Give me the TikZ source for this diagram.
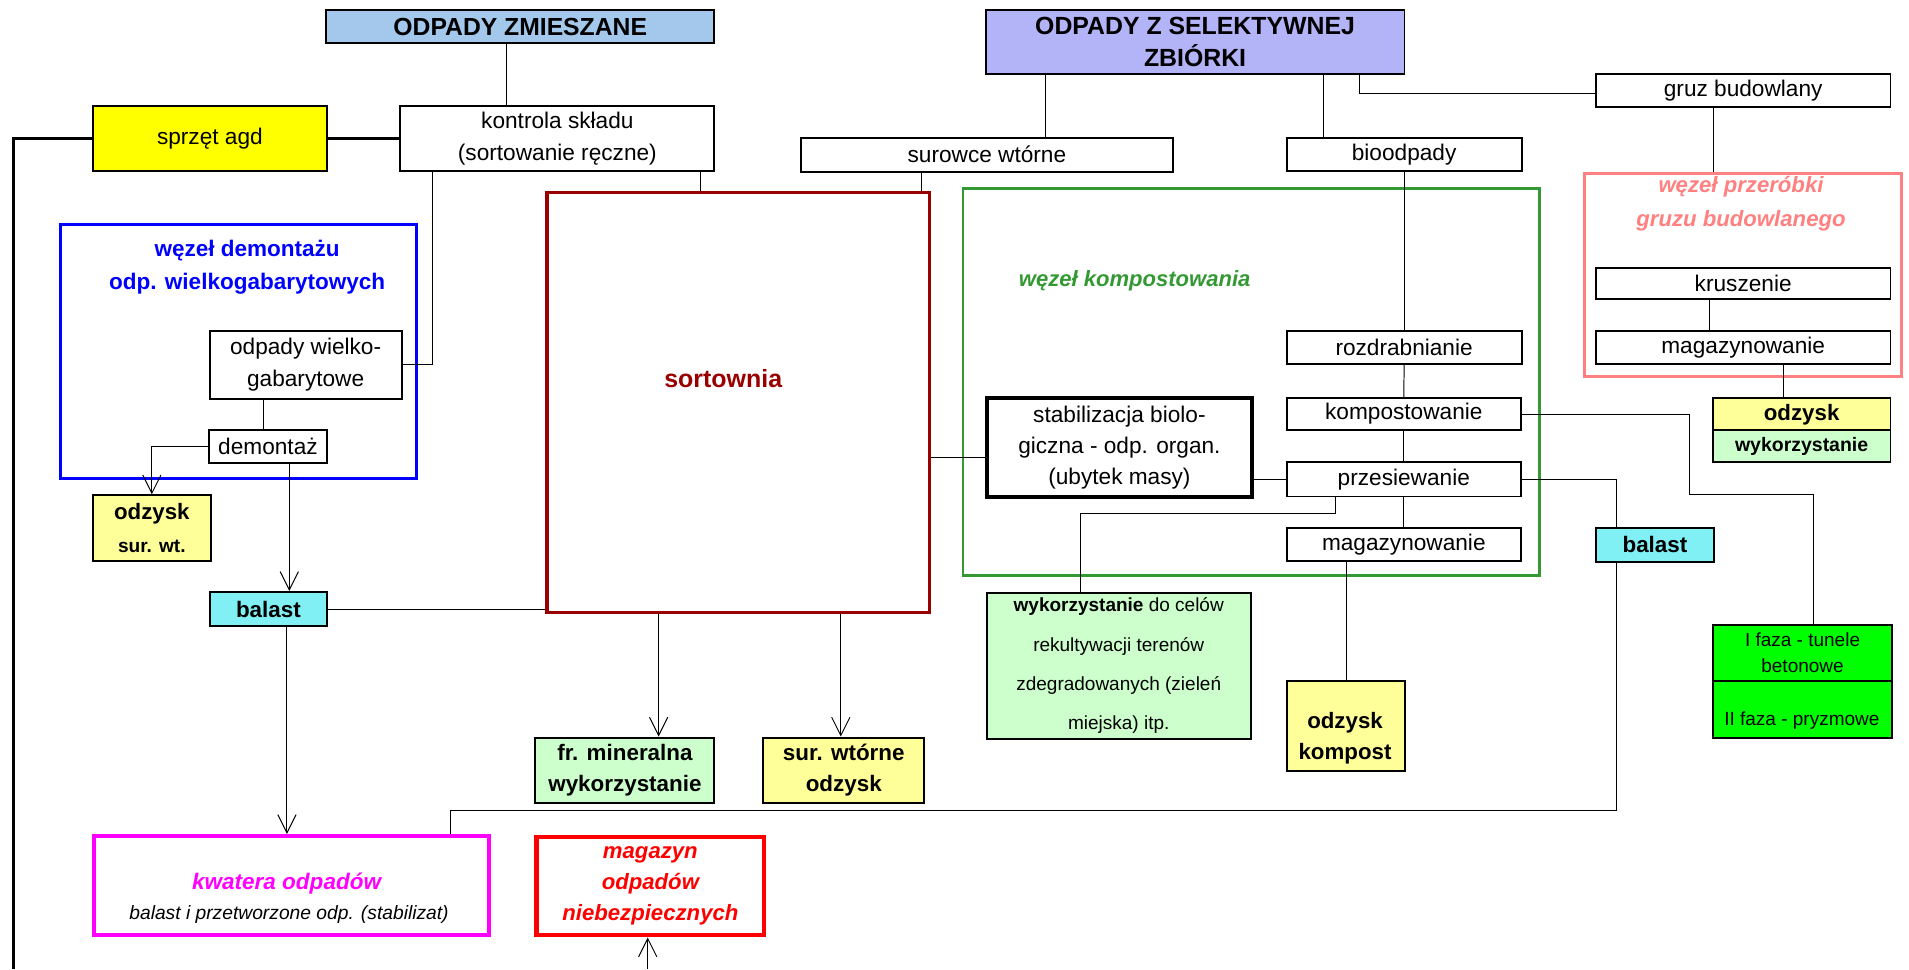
\documentclass[tikz,border=0pt]{standalone}
\usepackage{fontspec}
\setmainfont{Liberation Sans}
\usepackage{tikz}
\usetikzlibrary{arrows.meta,positioning,calc}
\definecolor{mixblue}{HTML}{A4C8EC}
\definecolor{selviolet}{HTML}{B3B3F7}
\definecolor{agdyellow}{HTML}{FFFF00}
\definecolor{paleyellow}{HTML}{FFFF99}
\definecolor{palegreen}{HTML}{CCFFCC}
\definecolor{brightgreen}{HTML}{00FF00}
\definecolor{ballastcyan}{HTML}{80F0F5}
\definecolor{sortred}{HTML}{990000}
\definecolor{compgreen}{HTML}{339933}
\definecolor{rubblepink}{HTML}{FF8080}
\definecolor{landfillpink}{HTML}{FF00FF}
\definecolor{hazred}{HTML}{FF0000}
\definecolor{dismblue}{HTML}{0000FF}

\newcommand\normtxt{\fontsize{18.6}{26}\selectfont}
\newcommand\smalltxt{\fontsize{15.6}{21.4}\selectfont}
\newcommand\boldtxt{\fontsize{18.4}{25.6}\selectfont\bfseries}

\tikzset{
  box/.style={draw, line width=1.6pt, inner sep=0pt, anchor=north west, align=center, font=\normtxt},
  nodeframe/.style={draw, line width=2.4pt, inner sep=0pt, anchor=north west},
  conn/.style={line width=0.8pt},
  arr/.style={line width=0.8pt, -{Straight Barb[length=15pt,width=15pt]}},
}

\begin{document}
\begin{tikzpicture}[x=1pt,y=-1pt]
  \useasboundingbox (0,0) rectangle (1568,796);

  % Inputs
  \node[box, fill=mixblue, minimum width=319pt, minimum height=27pt, font=\fontsize{20.3}{26}\selectfont\bfseries] (zmieszane) at (267,7.7) {ODPADY ZMIESZANE};
  \node[box, fill=selviolet, minimum width=344pt, minimum height=52.5pt, font=\fontsize{20.4}{26.1}\selectfont\bfseries] (selekt) at (808.8,7.7) {ODPADY Z SELEKTYWNEJ\\ZBIÓRKI};

  % First level
  \node[box, fill=agdyellow, minimum width=192.4pt, minimum height=54pt] (sprzet) at (75.4,86) {sprzęt agd};
  \node[box, minimum width=258pt, minimum height=54pt] (kontrola) at (328,86) {kontrola składu\\(sortowanie ręczne)};
  \node[box, minimum width=305.6pt, minimum height=28pt] (surowce) at (657,112.3) {surowce wtórne};
  \node[box, minimum width=193pt, minimum height=27.4pt] (bio) at (1056,112.6) {bioodpady};
  \node[box, minimum width=242pt, minimum height=27pt] (gruz) at (1310,60) {gruz budowlany};

  % Dismantling node
  \node[nodeframe, draw=dismblue, line width=2.6pt, minimum width=292.7pt, minimum height=209pt] (demframe) at (48.3,183) {};
  \node[text=dismblue, align=center, font=\fontsize{18.5}{27}\selectfont\bfseries] (demtitle) at (203,219.5) {węzeł demontażu\\odp. wielkogabarytowych};
  \node[box, minimum width=157.5pt, minimum height=55.6pt] (wielko) at (171.5,271) {odpady wielko-\\gabarytowe};
  \node[box, minimum width=97pt, minimum height=27.3pt] (demontaz) at (170.8,352.4) {demontaż};
  \node[box, fill=paleyellow, minimum width=97pt, minimum height=54pt, font=\fontsize{18.3}{27}\selectfont\bfseries] (odzs) at (75.4,406) {odzysk\\{\fontsize{15.7}{27}\selectfont sur. wt.}};
  \node[box, fill=ballastcyan, minimum width=96.3pt, minimum height=28pt, font=\boldtxt] (balastL) at (171.5,485.4) {balast};

  % Sorting plant
  \node[nodeframe, draw=sortred, line width=2.6pt, minimum width=314pt, minimum height=345pt] (sort) at (448,156.6) {};
  \node[text=sortred, font=\fontsize{20.5}{26}\selectfont\bfseries] (sorttitle) at (594,310.6) {sortownia};
  \node[box, fill=palegreen, minimum width=147pt, minimum height=54pt, font=\boldtxt] (fr) at (439,605) {fr. mineralna\\wykorzystanie};
  \node[box, fill=paleyellow, minimum width=132.5pt, minimum height=54pt, font=\boldtxt] (sw) at (626,605) {sur. wtórne\\odzysk};

  % Composting node
  \node[nodeframe, draw=compgreen, line width=2.2pt, minimum width=473.4pt, minimum height=317.6pt] (compframe) at (790,154) {};
  \node[text=compgreen, font=\fontsize{18.1}{26}\selectfont\bfseries\itshape] (comptitle) at (932,231) {węzeł kompostowania};
  \node[box, minimum width=193pt, minimum height=27pt] (rozdr) at (1056,271) {rozdrabnianie};
  \node[box, minimum width=192.5pt, minimum height=26.6pt] (kompost) at (1056,326) {kompostowanie};
  \node[box, minimum width=192.5pt, minimum height=28.3pt] (przes) at (1056,378.7) {przesiewanie};
  \node[box, minimum width=192.5pt, minimum height=27.4pt] (magk) at (1056,432.6) {magazynowanie};
  \node[box, line width=3.3pt, minimum width=218pt, minimum height=81.6pt, font=\fontsize{18.6}{25.3}\selectfont] (stab) at (808.8,325) {stabilizacja biolo-\\giczna - odp. organ.\\(ubytek masy)};
  \node[box, fill=palegreen, minimum width=217pt, minimum height=120pt, font=\fontsize{15.6}{32.3}\selectfont] (wyk) at (809.6,486) {{\bfseries wykorzystanie} do celów\\rekultywacji terenów\\zdegradowanych (zieleń\\miejska) itp.};
  \node[box, fill=paleyellow, minimum width=97.5pt, minimum height=74pt] (odzk) at (1056,558.5) {};
  \node[align=center, font=\fontsize{18.3}{25.7}\selectfont\bfseries] (odzktxt) at (1104.75,606.5) {odzysk\\kompost};

  % Rubble processing node
  \node[nodeframe, draw=rubblepink, line width=2.4pt, minimum width=260.6pt, minimum height=167pt] (rubframe) at (1300,141) {};
  \node[text=rubblepink, align=center, font=\fontsize{18.2}{27.7}\selectfont\bfseries\itshape] (rubtitle) at (1430,167) {węzeł przeróbki\\gruzu budowlanego};
  \node[box, minimum width=242pt, minimum height=26pt] (krusz) at (1310,219) {kruszenie};
  \node[box, minimum width=242pt, minimum height=27.4pt] (magg) at (1310,271) {magazynowanie};
  \node[box, fill=paleyellow, minimum width=146pt, minimum height=26.2pt, font=\fontsize{18.3}{26}\selectfont\bfseries] (odzg) at (1406,326.4) {odzysk};
  \node[box, fill=palegreen, minimum width=146pt, minimum height=26.4pt, font=\fontsize{16}{26}\selectfont\bfseries] (wykg) at (1406,352.6) {wykorzystanie};

  % Right side
  \node[box, fill=ballastcyan, minimum width=97pt, minimum height=27.5pt, font=\boldtxt] (balastR) at (1310,433) {balast};
  \node[box, fill=brightgreen, minimum width=146.5pt, minimum height=46pt, font=\smalltxt] (faza1) at (1406.5,512.5) {I faza - tunele\\betonowe};
  \node[box, fill=brightgreen, minimum width=146.5pt, minimum height=47pt] (faza2) at (1406.5,558.5) {};
  \node[font=\smalltxt] (faza2txt) at (1480,592) {II faza - pryzmowe};

  % Landfill and hazardous store
  \node[box, draw=landfillpink, line width=3.4pt, minimum width=324.3pt, minimum height=81.6pt] (kwat) at (75.5,685) {};
  \node[text=landfillpink, font=\fontsize{18.5}{26}\selectfont\bfseries\itshape] (kwattitle) at (235.4,726) {kwatera odpadów};
  \node[font=\fontsize{15.8}{26}\selectfont\itshape] (kwatsub) at (237.4,751.5) {balast i przetworzone odp. (stabilizat)};
  \node[box, draw=hazred, text=hazred, line width=3.4pt, minimum width=187pt, minimum height=81pt, font=\fontsize{18.2}{25.5}\selectfont\bfseries\itshape] (magn) at (439,685.6) {magazyn\\odpadów\\niebezpiecznych};
  \coordinate (magin) at (532,796);

  % Connectors from inputs
  \draw[conn] (415.6,0 |- zmieszane.south) -- (415.6,0 |- kontrola.north);
  \draw[line width=2pt] (sprzet.east) -- (kontrola.west);
  \draw[line width=2.6pt] (sprzet.west) -- (11.3,0 |- sprzet.west) -- (11.3,796);
  \draw[conn] (355.6,0 |- kontrola.south) |- (wielko.east);
  \draw[conn] (575,0 |- kontrola.south) -- (575,0 |- sort.north);
  \draw[conn] (858.6,0 |- selekt.south) -- (858.6,0 |- surowce.north);
  \draw[conn] (757,0 |- surowce.south) -- (757,0 |- sort.north);
  \draw[conn] (1086.8,0 |- selekt.south) -- (1086.8,0 |- bio.north);
  \draw[conn] (1117,0 |- selekt.south) |- ([yshift=-2.5pt]gruz.west);

  % Dismantling
  \draw[conn] (216.8,0 |- wielko.south) -- (216.8,0 |- demontaz.north);
  \draw[arr] (demontaz.west) -| (odzs.north);
  \draw[arr] (237.6,0 |- demontaz.south) -- (237.6,0 |- balastL.north);
  \draw[conn] (balastL.east) -- (balastL.east -| sort.west);
  \draw[arr] (235.7,0 |- balastL.south) -- (235.7,0 |- kwat.north);

  % Sorting plant outputs
  \draw[arr] (541,0 |- sort.south) -- (541,0 |- fr.north);
  \draw[arr] (690.6,0 |- sort.south) -- (690.6,0 |- sw.north);
  \draw[conn] (sort.east |- 0,376) -- (stab.west |- 0,376);

  % Composting line
  \draw[conn] (bio.south) -- (rozdr.north);
  \draw[conn] (rozdr.south) -- (kompost.north);
  \draw[conn] (kompost.south) -- (przes.north);
  \draw[conn] (przes.south) -- (magk.north);
  \draw[conn] (odzk.north |- magk.south) -- (odzk.north);
  \draw[conn] (stab.east |- przes.west) -- (przes.west);
  \draw[conn] (1097,0 |- przes.south) |- (887.6,421.6) -- (887.6,0 |- wyk.north);
  \draw[conn] (kompost.east) -| (1388,406) -| (1489.8,0 |- faza1.north);
  \draw[conn] (przes.east) -| (1328,0 |- balastR.north);
  \draw[conn] (1328,0 |- balastR.south) |- (369.7,666) -- (369.7,0 |- kwat.north);

  % Rubble line
  \draw[conn] (1407,0 |- gruz.south) -- (1407,0 |- rubframe.north);
  \draw[conn] (1404,0 |- krusz.south) -- (1404,0 |- magg.north);
  \draw[conn] (1465,0 |- magg.south) -- (1465,0 |- odzg.north);

  % Hazardous waste input
  \draw[arr] (magin) -- (magin |- magn.south);
\end{tikzpicture}
\end{document}
